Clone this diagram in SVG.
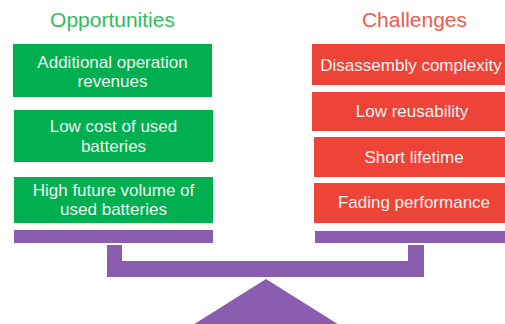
<svg xmlns="http://www.w3.org/2000/svg" width="505" height="324" viewBox="0 0 505 324">
<style>
text{font-family:"Liberation Sans",Arial,sans-serif;text-anchor:middle}
.t{font-size:21px}
.b{font-size:17px;fill:#F2F2F2}
.g{fill:#00B050}
.r{fill:#EE4437}
.p{fill:#8B5DB1}
</style>
<rect width="505" height="324" fill="#ffffff"/>
<g id="title-opportunities"><text class="t" x="112.5" y="27" fill="#2DBE60">Opportunities</text></g>
<g id="title-challenges"><text class="t" x="414.5" y="27" fill="#EE5A4E">Challenges</text></g>
<g id="opp1"><rect class="g" x="13" y="44" width="199" height="53"/><text class="b" x="112.5" y="68">Additional operation</text><text class="b" x="112.5" y="87">revenues</text></g>
<g id="opp2"><rect class="g" x="14" y="110" width="199" height="52"/><text class="b" x="113.5" y="132">Low cost of used</text><text class="b" x="113.5" y="152">batteries</text></g>
<g id="opp3"><rect class="g" x="14" y="177" width="199" height="46"/><text class="b" x="113.5" y="196">High future volume of</text><text class="b" x="113.5" y="215">used batteries</text></g>
<g id="ch1"><rect class="r" x="312" y="44" width="200" height="41"/><text class="b" x="411" y="71">Disassembly complexity</text></g>
<g id="ch2"><rect class="r" x="312" y="92" width="200" height="39"/><text class="b" x="412" y="117">Low reusability</text></g>
<g id="ch3"><rect class="r" x="314" y="137" width="200" height="40"/><text class="b" x="414" y="163">Short lifetime</text></g>
<g id="ch4"><rect class="r" x="314" y="183" width="200" height="40"/><text class="b" x="414" y="208">Fading performance</text></g>
<g id="scale">
<rect class="p" x="14" y="230" width="199" height="13"/>
<rect class="p" x="315" y="231" width="200" height="12"/>
<path class="p" d="M107 245H122V261H408V245H424V277H107Z"/>
<polygon class="p" points="266,279 180,333 352,333"/>
</g>
</svg>
